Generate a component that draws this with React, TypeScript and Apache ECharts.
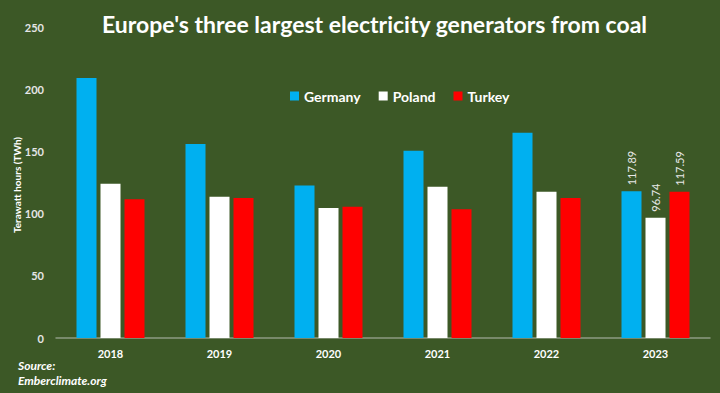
import React, { useEffect, useRef } from "react";
import * as echarts from "echarts";

const years = ["2018", "2019", "2020", "2021", "2022", "2023"];
const germany = [209, 156, 122.5, 150.5, 165, 117.89];
const poland = [124, 113.5, 104.5, 121.5, 117.5, 96.74];
const turkey = [111.5, 112.5, 105.5, 103.5, 112.5, 117.59];
const seriesNames = ["Germany", "Poland", "Turkey"];
const colors = ["#00b0f0", "#ffffff", "#ff0000"];
const yAxisTitle = "Terawatt hours (TWh)";

const FONT = "Lato, 'Open Sans', sans-serif";

function withLastLabel(values: number[]) {
  return values.map((v, i) =>
    i === values.length - 1
      ? {
          value: v,
          label: {
            show: true,
            position: "top",
            rotate: 90,
            align: "left",
            verticalAlign: "middle",
            distance: 6,
            color: "#e8e8e8",
            fontSize: 11,
            fontFamily: FONT,
            formatter: (p: any) => p.value.toFixed(2),
          },
        }
      : v
  );
}

export default function App() {
  const ref = useRef<HTMLDivElement>(null);
  useEffect(() => {
    if (!ref.current) return;
    const chart = echarts.init(ref.current, undefined, { renderer: "svg" });
    const data = [germany, poland, turkey];
    chart.setOption({
      animation: false,
      backgroundColor: "#3c5826",
      title: {
        text: "Europe's three largest electricity generators from coal",
        left: 97,
        top: 7,
        textStyle: {
          color: "#ffffff",
          fontSize: 23,
          fontWeight: "bold",
          fontFamily: FONT,
        },
      },
      legend: {
        data: seriesNames,
        top: 84,
        left: 285,
        itemWidth: 9,
        itemHeight: 9,
        itemGap: 18,
        icon: "rect",
        textStyle: {
          color: "#ffffff",
          fontSize: 14,
          fontWeight: "bold",
          fontFamily: FONT,
        },
      },
      grid: { left: 56, right: 10, top: 27, bottom: 55, containLabel: false },
      xAxis: {
        type: "category",
        data: years,
        axisLine: { show: true, lineStyle: { color: "#8c9a82", width: 1.5 } },
        axisTick: { show: false },
        axisLabel: {
          color: "#ffffff",
          fontSize: 11,
          fontWeight: "bold",
          fontFamily: FONT,
          margin: 10,
        },
      },
      yAxis: {
        type: "value",
        min: 0,
        max: 250,
        interval: 50,
        splitLine: { show: false },
        axisLine: { show: false },
        axisTick: { show: false },
        axisLabel: {
          color: "#e6e6e6",
          fontSize: 11,
          fontWeight: "bold",
          fontFamily: FONT,
          margin: 12,
        },
      },
      series: seriesNames.map((name, i) => ({
        name,
        type: "bar",
        data: withLastLabel(data[i]),
        barWidth: 20,
        barGap: "20%",
        itemStyle: { color: colors[i] },
      })),
      graphic: [
        {
          type: "text",
          x: 17,
          y: 185,
          rotation: Math.PI / 2,
          style: {
            text: yAxisTitle,
            fill: "#ffffff",
            fontSize: 10,
            fontWeight: "bold",
            fontFamily: FONT,
            align: "center",
            verticalAlign: "middle",
          },
        },
        {
          type: "text",
          left: 18,
          top: 358,
          style: {
            text: "Source:\nEmberclimate.org",
            fill: "#ffffff",
            fontSize: 12,
            fontWeight: "bold",
            fontStyle: "italic",
            fontFamily: FONT,
            lineHeight: 15,
          },
        },
      ],
    });
    return () => chart.dispose();
  }, []);
  return <div ref={ref} style={{ width: 720, height: 393, position: "absolute", left: 0, top: 0 }} />;
}
